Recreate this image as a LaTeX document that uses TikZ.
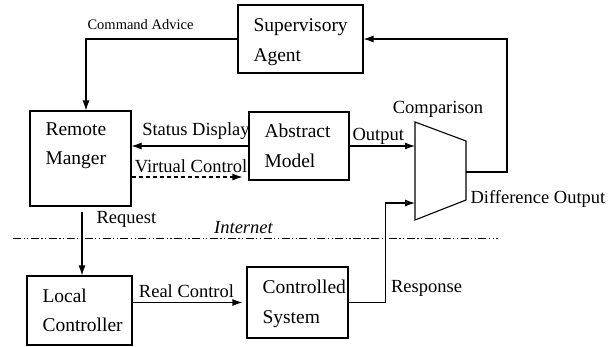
\documentclass[tikz,border=0pt]{standalone}
\usepackage{fontspec}
\setmainfont{Liberation Serif}
\usetikzlibrary{arrows.meta}
\hfuzz=20pt

\begin{document}
\begin{tikzpicture}[x=1pt, y=-1pt, line width=1.1pt, >={Latex[length=10pt,width=7pt]},
block/.style={draw, align=left, inner xsep=15.5pt, inner ysep=0pt, font=\fontsize{19.5pt}{29.5pt}\selectfont},
lbl/.style={font=\fontsize{18.5pt}{22pt}\selectfont, inner sep=0pt, anchor=base}]
\useasboundingbox (0,0) rectangle (608,346);
\node [block, text width=94pt, minimum height=68pt, text height=19.5pt] (sup) at (300.5,39) {Supervisory\\Agent};
\node [block, text width=70pt, minimum height=95pt] (remote) at (80.5,158.5) {Remote\\Manger\\\mbox{}};
\node [block, text width=69pt, minimum height=68pt] (abstract) at (299,146) {Abstract\\Model};
\node [block, text width=74pt, minimum height=69pt] (local) at (79.5,310.5) {Local\\Controller};
\node [block, text width=70pt, minimum height=71pt, text height=16pt] (controlled) at (297.5,302.5) {Controlled\\System};

% comparison unit
\draw (415,122) -- (466,141) -- (466,200) -- (415,220) -- cycle;
\coordinate (cmpin1) at (415,146);
\coordinate (cmpin2) at (415,203);
\coordinate (cmpout) at (466,172);
\node [lbl] (cmplbl) at (438,113) {Comparison};
\node [lbl, anchor=base west] (difflbl) at (470,203) {Difference Output};

% internet boundary
\draw [line width=0.9pt, dash pattern=on 8pt off 2.5pt on 1.2pt off 2.5pt on 1.2pt off 2.5pt] (13,238) -- (498,238);
\node [lbl] (netlbl) at (243.5,233) {\itshape Internet};

\draw [->] (sup.west) -| node [lbl, pos=0.32, yshift=10pt, font=\fontsize{14.5pt}{17pt}\selectfont] {Command Advice} ([xshift=5.5pt]remote.north);
\draw [->] (abstract.west) -- node [lbl, xshift=6pt, yshift=11pt] {Status Display} (abstract.west -| remote.east);
\draw [->, dash pattern=on 4pt off 3pt, shorten >=6pt] ([yshift=-31pt]abstract.west -| remote.east) -- node [lbl, xshift=1pt, yshift=5pt] {Virtual Control} ([yshift=-31pt]abstract.west);
\draw [->] (abstract.east) -- node [lbl, xshift=-4pt, yshift=6pt] {Output} (cmpin1);
\draw [->] (cmpout) -- ++(41,0) |- (sup.east);
\draw [->, shorten <=5pt] ([xshift=1.5pt]remote.south) -- node [lbl, anchor=base west, pos=0.24, xshift=14pt] {Request} ([xshift=1.5pt]remote.south |- local.north);
\draw [->, shorten >=4pt] (controlled.west -| local.east) -- node [lbl, xshift=-3pt, yshift=5.5pt] {Real Control} (controlled.west);
\draw [->] (controlled.east) -- ++(37,0) |- node [lbl, anchor=base west, pos=0.048, xshift=5pt] {Response} (cmpin2);
\end{tikzpicture}
\end{document}
